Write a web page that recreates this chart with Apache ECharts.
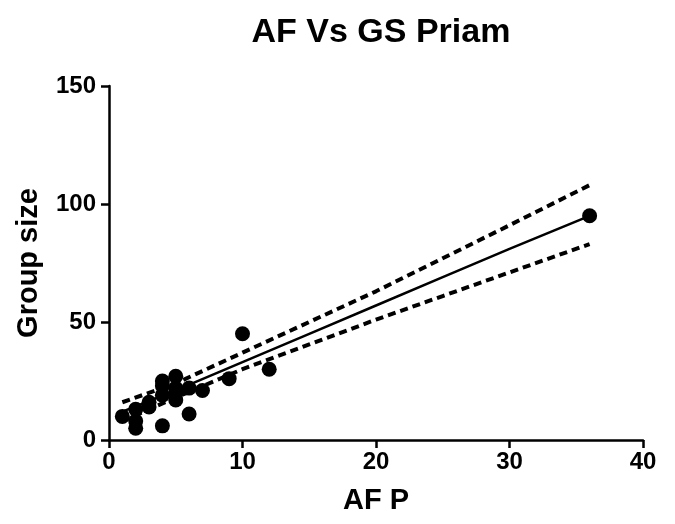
<!DOCTYPE html>
<html>
<head>
<meta charset="utf-8">
<script src="https://cdn.jsdelivr.net/npm/echarts@6/dist/echarts.min.js"></script>
<style>
  body { margin: 0; background: #fff; }
  #chart { width: 675px; height: 524px; }
</style>
</head>
<body>
<div id="chart"></div>
<script>
// scatter points (AF P, Group size)
var afP =       [1, 2, 2, 2, 3, 3, 4, 4, 4, 4, 5, 5, 5, 5, 6, 6, 7, 9, 10, 12, 36];
var groupSize = [10, 5, 8, 13, 14, 16, 6, 25, 23, 19, 27, 22, 17, 20, 22, 11, 21, 26, 45, 30, 95];

// fitted line and 95% band
var fitX  = [1, 5, 10, 15, 20, 25, 30, 36];
var fitY  = [12, 21, 33, 45, 57, 69, 81, 95];
var upper = [16, 24, 37, 50, 63, 77, 91, 108];
var lower = [8, 18, 30, 40.5, 51, 61, 71, 83];

var xTicks = [0, 10, 20, 30, 40];
var yTicks = [0, 50, 100, 150];

function pairs(xs, ys) {
    return xs.map(function (x, i) { return [x, ys[i]]; });
}

var font = '"Liberation Sans", Arial, sans-serif';
var chart = echarts.init(document.getElementById('chart'));

chart.setOption({
    animation: false,
    title: {
        text: 'AF Vs GS Priam',
        left: 376,
        textAlign: 'center',
        top: 11,
        textStyle: { fontFamily: font, fontSize: 34, fontWeight: 'bold', color: '#000' }
    },
    grid: { left: 109, right: 32, top: 86, bottom: 84 },
    xAxis: {
        type: 'value',
        min: xTicks[0],
        max: xTicks[xTicks.length - 1],
        interval: 10,
        name: 'AF P',
        nameLocation: 'middle',
        nameGap: 46,
        nameTextStyle: { fontFamily: font, fontSize: 29, fontWeight: 'bold', color: '#000' },
        splitLine: { show: false },
        axisLine: { onZero: false, lineStyle: { color: '#000', width: 2.5 } },
        axisTick: { show: true, length: 8, lineStyle: { color: '#000', width: 2.5 } },
        axisLabel: { margin: 10, fontFamily: font, fontSize: 24, fontWeight: 'bold', color: '#000' }
    },
    yAxis: {
        type: 'value',
        min: yTicks[0],
        max: yTicks[yTicks.length - 1],
        interval: 50,
        name: 'Group size',
        nameLocation: 'middle',
        nameGap: 66,
        nameTextStyle: { fontFamily: font, fontSize: 29, fontWeight: 'bold', color: '#000' },
        splitLine: { show: false },
        axisLine: { show: true, onZero: false, lineStyle: { color: '#000', width: 2.5 } },
        axisTick: { show: true, length: 8, lineStyle: { color: '#000', width: 2.5 } },
        axisLabel: { margin: 13, fontFamily: font, fontSize: 24, fontWeight: 'bold', color: '#000' }
    },
    series: [{
        type: 'line',
        data: pairs(fitX, upper),
        showSymbol: false,
        lineStyle: { color: '#000', width: 4, type: [8, 5] }
    }, {
        type: 'line',
        data: pairs(fitX, lower),
        showSymbol: false,
        lineStyle: { color: '#000', width: 4, type: [8, 5] }
    }, {
        type: 'line',
        data: pairs(fitX, fitY),
        showSymbol: false,
        lineStyle: { color: '#000', width: 2.5 }
    }, {
        type: 'scatter',
        data: pairs(afP, groupSize),
        symbol: 'circle',
        symbolSize: 15,
        itemStyle: { color: '#000', opacity: 1 }
    }]
});
</script>
</body>
</html>
